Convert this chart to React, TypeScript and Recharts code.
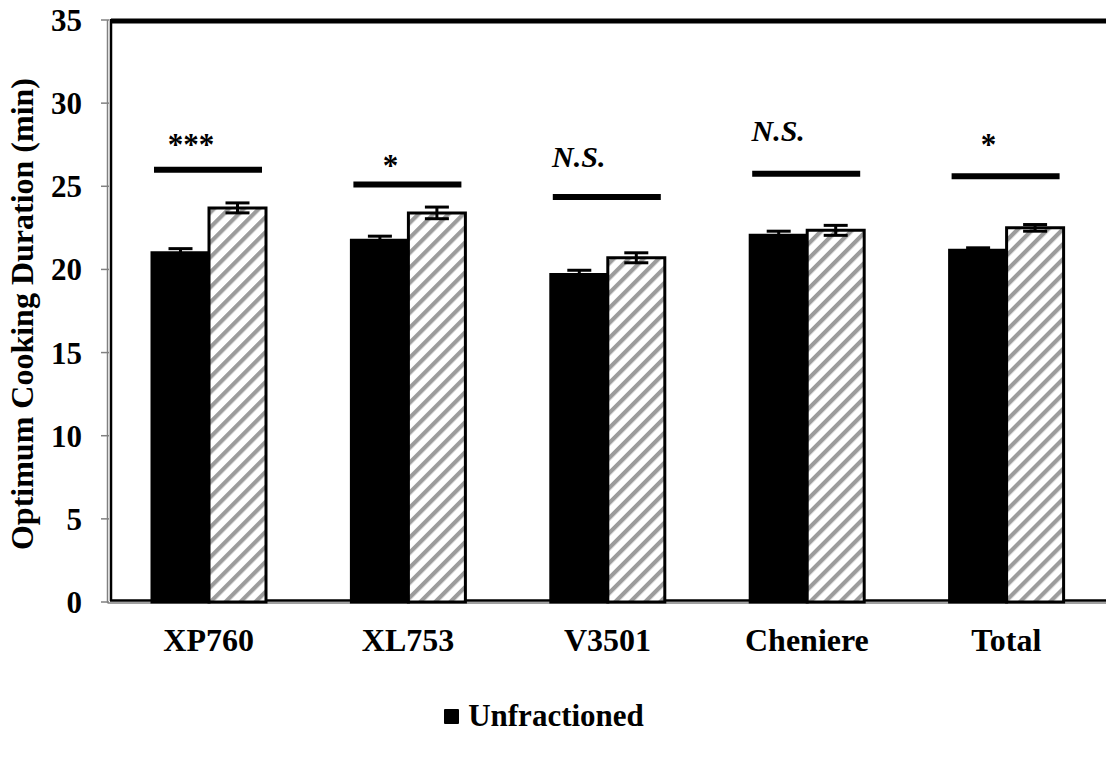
import React from "react";
import {
  BarChart,
  Bar,
  XAxis,
  YAxis,
  ErrorBar,
  LabelList,
  Legend,
  ReferenceArea,
} from "recharts";

const categories = ["XP760", "XL753", "V3501", "Cheniere", "Total"];
const unfractioned = [21.0, 21.75, 19.7, 22.05, 21.15];
const unfractionedErr = [0.25, 0.25, 0.25, 0.25, 0.15];
const fractioned = [23.7, 23.4, 20.7, 22.35, 22.5];
const fractionedErr = [0.3, 0.35, 0.3, 0.3, 0.2];
const sigLabels = ["***", "*", "N.S.", "N.S.", "*"];
const sigLineAt = [26.0, 25.1, 24.35, 25.75, 25.6];
const sigTextAt = [27.8, 26.5, 26.75, 28.3, 27.8];
const yTicks = [0, 5, 10, 15, 20, 25, 30, 35];

const FONT = "'Liberation Serif', 'Times New Roman', serif";

const data = categories.map((name, i) => ({
  name,
  unfractioned: unfractioned[i],
  unErr: unfractionedErr[i],
  fractioned: fractioned[i],
  frErr: fractionedErr[i],
}));

// significance bar + marker drawn above each pair, scaled off the hatched bar
function SigMark(props: any) {
  const { x, y, width, height, index } = props;
  const v = fractioned[index];
  const perUnit = height / v;
  const base = y + height;
  const lineY = base - sigLineAt[index] * perUnit;
  const textY = base - sigTextAt[index] * perUnit;
  const label = sigLabels[index];
  const star = label.includes("*");
  const fs = star ? 31 : 30;
  return (
    <g>
      <line
        x1={x - width + 2}
        x2={x + width - 4}
        y1={lineY}
        y2={lineY}
        stroke="#000"
        strokeWidth={6}
      />
      <text
        x={star ? x - 18 : x - 29}
        y={textY + (star ? 0.48 : 0.33) * fs}
        textAnchor="middle"
        fontFamily={FONT}
        fontWeight="bold"
        fontStyle={star ? "normal" : "italic"}
        fontSize={fs}
        fill="#000"
      >
        {label}
      </text>
    </g>
  );
}

// plot frame: heavy top rule, doubled left and bottom axis lines
function Frame(props: any) {
  const { x, y, width, height } = props;
  const r = x + width;
  const b = y + height;
  return (
    <g>
      <line x1={x + 2} x2={r} y1={y + 1} y2={y + 1} stroke="#000" strokeWidth={5} />
      <line x1={x - 1.5} x2={x - 1.5} y1={y} y2={b + 1} stroke="#808080" strokeWidth={1.5} />
      <line x1={x + 2} x2={x + 2} y1={y - 1} y2={b - 1} stroke="#000" strokeWidth={2.5} />
      <line x1={x + 1} x2={r} y1={b - 1.5} y2={b - 1.5} stroke="#000" strokeWidth={2.5} />
      <line x1={x - 1.5} x2={r} y1={b + 1} y2={b + 1} stroke="#808080" strokeWidth={1.5} />
    </g>
  );
}

function LegendContent() {
  return (
    <div
      style={{
        height: 40,
        display: "flex",
        alignItems: "center",
        justifyContent: "center",
        marginLeft: -18,
        fontFamily: FONT,
        fontWeight: "bold",
        fontSize: 31,
        color: "#000",
      }}
    >
      <span
        style={{
          display: "inline-block",
          width: 15,
          height: 15,
          background: "#000",
          marginRight: 9,
          borderRadius: 1,
        }}
      />
      <span>Unfractioned</span>
    </div>
  );
}

export default function App() {
  return (
    <div style={{ position: "absolute", left: 0, top: 0, background: "#fff" }}>
      <BarChart
        width={1106}
        height={759}
        data={data}
        margin={{ top: 20, right: 0, left: 0, bottom: 23 }}
        barGap={0}
        barSize={57}
        style={{ fontFamily: FONT }}
      >
        <defs>
          <pattern
            id="hatch"
            width={10.6}
            height={10.6}
            patternUnits="userSpaceOnUse"
            patternTransform="rotate(45)"
          >
            <rect width={10.6} height={10.6} fill="#fff" />
            <rect x={0} y={0} width={4.2} height={10.6} fill="#9c9c9c" />
          </pattern>
        </defs>
        <XAxis
          dataKey="name"
          axisLine={false}
          tickLine={false}
          tickSize={0}
          tickMargin={26}
          height={94}
          interval={0}
          tick={{ fontSize: 32, fontWeight: "bold", fill: "#000", fontFamily: FONT }}
        />
        <YAxis
          domain={[0, 35]}
          ticks={yTicks}
          width={109}
          axisLine={false}
          tickLine={{ stroke: "#808080", strokeWidth: 1.5 }}
          tickSize={8}
          tickMargin={19}
          tick={{ fontSize: 31, fontWeight: "bold", fill: "#000", fontFamily: FONT }}
          label={{
            content: () => (
              <text
                transform="translate(33,314) rotate(-90)"
                textAnchor="middle"
                fontFamily={FONT}
                fontWeight="bold"
                fontSize={32}
                fill="#000"
              >
                Optimum Cooking Duration (min)
              </text>
            ),
          }}
        />
        <Legend verticalAlign="bottom" content={<LegendContent />} />
        <Bar
          dataKey="unfractioned"
          name="Unfractioned"
          fill="#000"
          stroke="#000"
          strokeWidth={3}
          isAnimationActive={false}
        >
          <ErrorBar dataKey="unErr" width={12} strokeWidth={3} stroke="#000" direction="y" />
        </Bar>
        <Bar
          dataKey="fractioned"
          name="Fractioned"
          fill="url(#hatch)"
          stroke="#000"
          strokeWidth={3}
          isAnimationActive={false}
        >
          <ErrorBar dataKey="frErr" width={12} strokeWidth={3} stroke="#000" direction="y" />
          <LabelList dataKey="fractioned" content={<SigMark />} />
        </Bar>
        <ReferenceArea y1={0} y2={35} shape={<Frame />} ifOverflow="visible" />
      </BarChart>
    </div>
  );
}
